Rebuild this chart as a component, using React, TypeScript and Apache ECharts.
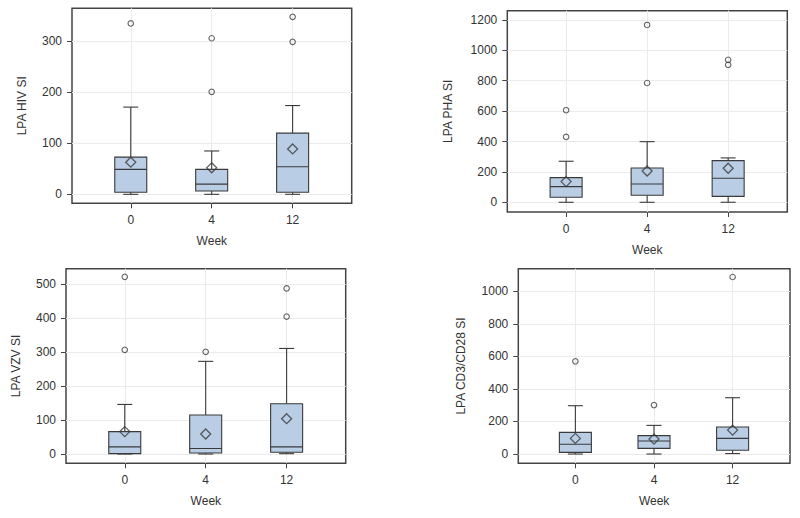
import React, { useEffect, useRef } from 'react';
import * as echarts from 'echarts';

const weeks = ['0', '4', '12'];
const weekIndex = [0, 1, 2];

// [min, Q1, median, Q3, max] for weeks 0, 4, 12
const hivBoxes = [
  [0, 4, 49, 73, 171],
  [0, 6.5, 20, 49, 85],
  [0, 4, 54, 120, 174],
];
const hivMeans = [63, 52, 89];
const hivOutliers = [[0, 335], [1, 306], [1, 201], [2, 348], [2, 299]];
const hivTicks = [0, 100, 200, 300];

const phaBoxes = [
  [0, 33, 103, 162, 270],
  [0, 46, 120, 226, 399],
  [0, 39, 158, 274, 292],
];
const phaMeans = [136, 206, 224];
const phaOutliers = [[0, 606], [0, 430], [1, 1167], [1, 785], [2, 938], [2, 905]];
const phaTicks = [0, 200, 400, 600, 800, 1000, 1200];

const vzvBoxes = [
  [0, 1, 21, 66, 146],
  [0, 3, 16, 115, 273],
  [1, 5, 21, 148, 311],
];
const vzvMeans = [66, 59, 104];
const vzvOutliers = [[0, 522], [0, 307], [1, 301], [2, 488], [2, 405]];
const vzvTicks = [0, 100, 200, 300, 400, 500];

const cdBoxes = [
  [0, 10, 60, 133, 297],
  [0, 35, 80, 113, 176],
  [3, 23, 96, 166, 346],
];
const cdMeans = [96, 92, 147];
const cdOutliers = [[0, 570], [1, 301], [2, 1088]];
const cdTicks = [0, 200, 400, 600, 800, 1000];

const FONT = '"Liberation Sans", Arial, Helvetica, sans-serif';
const TEXT = '#333333';
const DARK = '#3a3a3a';
const FRAME = '#444444';
const GRIDLINE = '#ebebeb';
const BOXFILL = '#b9cde5';

const panels = [
  { title: 'LPA HIV SI', boxes: hivBoxes, means: hivMeans, outliers: hivOutliers, ticks: hivTicks,
    yMin: -17.6, yMax: 364.7, grid: { left: 72, top: 8.3, width: 279.7, height: 195 }, nameGap: 44 },
  { title: 'LPA PHA SI', boxes: phaBoxes, means: phaMeans, outliers: phaOutliers, ticks: phaTicks,
    yMin: -64, yMax: 1261, grid: { left: 507.3, top: 10.7, width: 280, height: 201.3 }, nameGap: 53.5 },
  { title: 'LPA VZV SI', boxes: vzvBoxes, means: vzvMeans, outliers: vzvOutliers, ticks: vzvTicks,
    yMin: -27.4, yMax: 546, grid: { left: 66, top: 268.7, width: 279.7, height: 194.6 }, nameGap: 43.7 },
  { title: 'LPA CD3/CD28 SI', boxes: cdBoxes, means: cdMeans, outliers: cdOutliers, ticks: cdTicks,
    yMin: -57, yMax: 1139, grid: { left: 518.3, top: 268.7, width: 271.7, height: 194.6 }, nameGap: 51.6 },
];

const X_MIN = -0.726;
const X_MAX = 2.73;

function renderBox(params: any, api: any) {
  const x = api.value(0);
  const pMin = api.coord([x, api.value(1)]);
  const pQ1 = api.coord([x, api.value(2)]);
  const pMed = api.coord([x, api.value(3)]);
  const pQ3 = api.coord([x, api.value(4)]);
  const pMax = api.coord([x, api.value(5)]);
  const cx = pMed[0];
  const hb = 16;
  const hc = 7.5;
  const ls = { stroke: DARK, lineWidth: 1.1, fill: null };
  return {
    type: 'group',
    children: [
      { type: 'line', shape: { x1: cx, y1: pMax[1], x2: cx, y2: pQ3[1] }, style: ls },
      { type: 'line', shape: { x1: cx, y1: pQ1[1], x2: cx, y2: pMin[1] }, style: ls },
      { type: 'line', shape: { x1: cx - hc, y1: pMax[1], x2: cx + hc, y2: pMax[1] }, style: ls },
      { type: 'line', shape: { x1: cx - hc, y1: pMin[1], x2: cx + hc, y2: pMin[1] }, style: ls },
      { type: 'rect', shape: { x: cx - hb, y: pQ3[1], width: hb * 2, height: pQ1[1] - pQ3[1] },
        style: { fill: BOXFILL, stroke: DARK, lineWidth: 1.1 } },
      { type: 'line', shape: { x1: cx - hb, y1: pMed[1], x2: cx + hb, y2: pMed[1] }, style: ls },
    ],
  };
}

export default function App() {
  const ref = useRef<HTMLDivElement>(null);
  useEffect(() => {
    if (!ref.current) return;
    const chart = echarts.init(ref.current, undefined, { renderer: 'svg' });
    const grids: any[] = [];
    const xAxes: any[] = [];
    const yAxes: any[] = [];
    const series: any[] = [];
    panels.forEach((p, i) => {
      grids.push({ ...p.grid, show: true, borderColor: FRAME, borderWidth: 1.5, backgroundColor: 'transparent', containLabel: false });
      xAxes.push({
        type: 'value', gridIndex: i, min: X_MIN, max: X_MAX, position: 'bottom',
        name: 'Week', nameLocation: 'middle', nameGap: 31.5,
        nameTextStyle: { fontFamily: FONT, fontSize: 12, color: TEXT },
        axisLine: { show: false, onZero: false },
        axisTick: { show: true, customValues: weekIndex, length: 5, lineStyle: { color: FRAME, width: 1 } },
        axisLabel: { customValues: weekIndex, formatter: (v: number) => weeks[Math.round(v)] ?? '',
          fontFamily: FONT, fontSize: 12, color: TEXT, margin: 10.5 },
        splitLine: { show: true, lineStyle: { color: GRIDLINE, width: 1 } },
      });
      yAxes.push({
        type: 'value', gridIndex: i, min: p.yMin, max: p.yMax, position: 'left',
        name: p.title, nameLocation: 'middle', nameRotate: 90, nameGap: p.nameGap,
        nameTextStyle: { fontFamily: FONT, fontSize: 12, color: TEXT },
        axisLine: { show: false, onZero: false },
        axisTick: { show: true, customValues: p.ticks, length: 5, lineStyle: { color: FRAME, width: 1 } },
        axisLabel: { customValues: p.ticks, formatter: (v: number) => String(v),
          fontFamily: FONT, fontSize: 12, color: TEXT, margin: 10 },
        splitLine: { show: true, lineStyle: { color: GRIDLINE, width: 1 } },
      });
      series.push({
        type: 'custom', xAxisIndex: i, yAxisIndex: i, z: 3,
        renderItem: renderBox,
        encode: { x: 0, y: [1, 2, 3, 4, 5] },
        data: p.boxes.map((b, k) => [weekIndex[k], ...b]),
        silent: true,
      });
      series.push({
        type: 'scatter', xAxisIndex: i, yAxisIndex: i, z: 4,
        symbol: 'diamond', symbolSize: 10,
        itemStyle: { color: 'rgba(0,0,0,0)', borderColor: DARK, borderWidth: 1.3 },
        data: p.means.map((m, k) => [weekIndex[k], m]),
        silent: true,
      });
      series.push({
        type: 'scatter', xAxisIndex: i, yAxisIndex: i, z: 4,
        symbol: 'circle', symbolSize: 5.5,
        itemStyle: { color: 'rgba(0,0,0,0)', borderColor: DARK, borderWidth: 1.1 },
        data: p.outliers.map((o) => [o[0], o[1]]),
        silent: true,
      });
    });
    chart.setOption({
      animation: false,
      backgroundColor: '#ffffff',
      textStyle: { fontFamily: FONT },
      grid: grids,
      xAxis: xAxes,
      yAxis: yAxes,
      series,
    });
    return () => chart.dispose();
  }, []);
  return (
    <div
      ref={ref}
      style={{ position: 'fixed', left: 0, top: 0, width: 800, height: 518, background: '#fff' }}
    />
  );
}
